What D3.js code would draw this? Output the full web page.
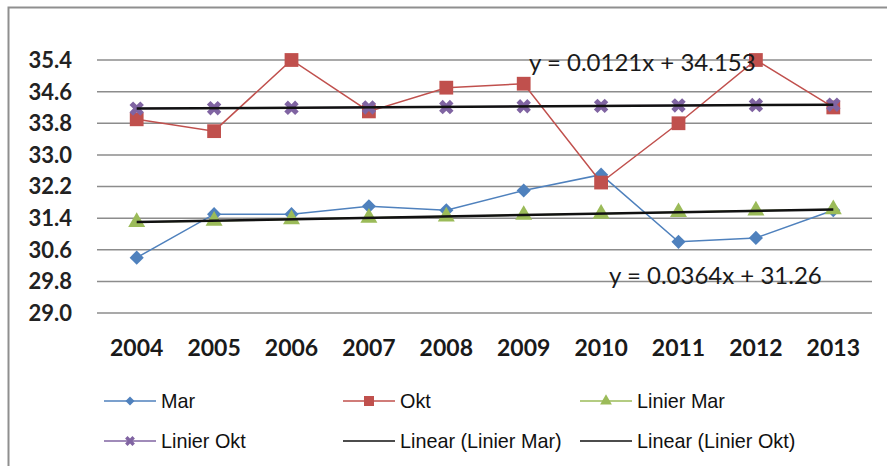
<!DOCTYPE html>
<html lang="en">
  <head>
    <meta charset="utf-8">
    <style>
      body{ margin:0; background:#fff; }
      .grid line{ stroke:#8c8c8c; stroke-width:1.5px; }
      .tick-y{ font: bold 22px Lato, sans-serif; fill:#222; }
      .tick-x{ font: bold 23px Lato, sans-serif; fill:#1a1a1a; }
      .eq{ font: 24px Lato, sans-serif; fill:#1a1a1a; }
      .legend text{ font: 19.8px "Liberation Sans", Arial, sans-serif; fill:#111; }
    </style>
  </head>
  <body>
    <script src="https://d3js.org/d3.v7.min.js"></script>
    <script>
      // data
      var years = ["2004","2005","2006","2007","2008","2009","2010","2011","2012","2013"];
      var mar = [30.4, 31.5, 31.5, 31.7, 31.6, 32.1, 32.5, 30.8, 30.9, 31.6];
      var okt = [33.9, 33.6, 35.4, 34.1, 34.7, 34.8, 32.3, 33.8, 35.4, 34.2];
      var linierMar = [31.30, 31.33, 31.37, 31.41, 31.44, 31.48, 31.51, 31.55, 31.59, 31.62];
      var linierOkt = [34.17, 34.18, 34.19, 34.20, 34.21, 34.23, 34.24, 34.25, 34.26, 34.27];
      var yTicks = [29.0, 29.8, 30.6, 31.4, 32.2, 33.0, 33.8, 34.6, 35.4];
      var eqOkt = "y = 0.0121x + 34.153",
          eqMar = "y = 0.0364x + 31.26";

      var W = 887, H = 466;
      var svg = d3.select("body").append("svg")
          .attr("width", W)
          .attr("height", H);

      // frame (right and bottom are cut off in the picture)
      svg.append("path")
          .attr("d", "M8.5,466 V7.5 H887")
          .attr("fill", "none")
          .attr("stroke", "#8f8f8f")
          .attr("stroke-width", 2);

      var x = d3.scaleBand().domain(years).range([98, 872]);
      var y = d3.scaleLinear().domain([29.0, 35.4]).range([313, 60]);
      var cx = function(i){ return x(years[i]) + x.bandwidth()/2; };

      //gridlines
      svg.append("g").attr("class","grid")
        .selectAll("line").data(yTicks).enter().append("line")
          .attr("x1", 97).attr("x2", 872)
          .attr("y1", function(d){ return y(d); })
          .attr("y2", function(d){ return y(d); });

      //y labels
      svg.append("g").selectAll("text").data(yTicks).enter().append("text")
          .attr("class","tick-y")
          .attr("x", 72)
          .attr("y", function(d){ return y(d); })
          .attr("dy", ".36em")
          .attr("text-anchor","end")
          .text(function(d){ return d3.format(".1f")(d); });

      //x labels
      svg.append("g").selectAll("text").data(years).enter().append("text")
          .attr("class","tick-x")
          .attr("x", function(d){ return x(d) + x.bandwidth()/2; })
          .attr("y", 356)
          .attr("text-anchor","middle")
          .text(function(d){ return d; });

      var line = d3.line()
          .x(function(d,i){ return cx(i); })
          .y(function(d){ return y(d); });

      var series = [
        {name:"Mar", vals:mar, color:"#4f81bd", sym:d3.symbolSquare, size:100, rot:45},
        {name:"Okt", vals:okt, color:"#c0504d", sym:d3.symbolSquare, size:190, rot:0},
        {name:"Linier Mar", vals:linierMar, color:"#9bbb59", sym:d3.symbolTriangle, size:125, rot:0},
        {name:"Linier Okt", vals:linierOkt, color:"#8064a2", sym:d3.symbolCross, size:130, rot:45}
      ];

      series.forEach(function(s){
        svg.append("path")
            .attr("d", line(s.vals))
            .attr("fill","none")
            .attr("stroke", s.color)
            .attr("stroke-width", 1.5);
        svg.append("g").selectAll("path").data(s.vals).enter().append("path")
            .attr("d", d3.symbol().type(s.sym).size(s.size))
            .attr("fill", s.color)
            .attr("transform", function(d,i){
              return "translate(" + cx(i) + "," + y(d) + ") rotate(" + s.rot + ")"; });
      });

      // linear trendlines of the two fitted series
      [linierMar, linierOkt].forEach(function(v){
        svg.append("line")
            .attr("x1", cx(0)).attr("x2", cx(v.length-1))
            .attr("y1", y(v[0])).attr("y2", y(v[v.length-1]))
            .attr("stroke", "#111")
            .attr("stroke-width", 2.5);
      });

      // equations
      svg.append("text").attr("class","eq")
          .attr("x", 529).attr("y", 71).text(eqOkt);
      svg.append("text").attr("class","eq")
          .attr("x", 609).attr("y", 284).text(eqMar);

      // legend
      var legendItems = [
        {name:"Mar", color:"#4f81bd", sym:d3.symbolSquare, size:40, rot:45},
        {name:"Okt", color:"#c0504d", sym:d3.symbolSquare, size:100, rot:0},
        {name:"Linier Mar", color:"#9bbb59", sym:d3.symbolTriangle, size:60, rot:0},
        {name:"Linier Okt", color:"#8064a2", sym:d3.symbolCross, size:60, rot:45},
        {name:"Linear (Linier Mar)", color:"#111", sym:null},
        {name:"Linear (Linier Okt)", color:"#111", sym:null}
      ];
      var colX = [104, 343, 580], rowY = [401, 441];

      var lg = svg.append("g").attr("class","legend")
        .selectAll("g").data(legendItems).enter().append("g")
          .attr("transform", function(d,i){
            return "translate(" + colX[i % 3] + "," + rowY[Math.floor(i / 3)] + ")"; });

      lg.append("line")
          .attr("x1", 0).attr("x2", 52)
          .attr("stroke", function(d){ return d.color; })
          .attr("stroke-width", 1.5);
      lg.filter(function(d){ return d.sym; }).append("path")
          .attr("d", function(d){ return d3.symbol().type(d.sym).size(d.size)(); })
          .attr("fill", function(d){ return d.color; })
          .attr("transform", function(d){ return "translate(26,0) rotate(" + d.rot + ")"; });
      lg.append("text")
          .attr("x", 57)
          .attr("dy", ".36em")
          .text(function(d){ return d.name; });
    </script>
  </body>
</html>
